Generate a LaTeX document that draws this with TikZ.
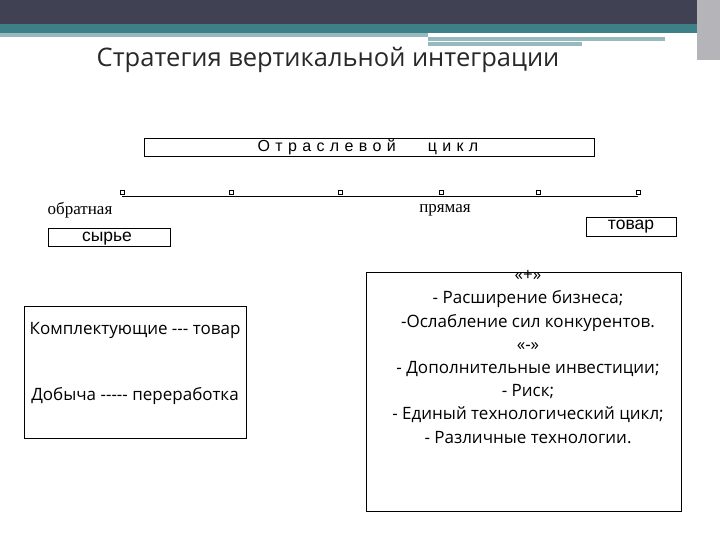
\documentclass[tikz,border=0pt]{standalone}
\usepackage{fontspec}
\setmainfont{Liberation Serif}
\newfontfamily\tsans{Open Sans}
\newfontfamily\asans{Liberation Sans}
\definecolor{band}{RGB}{64,66,84}
\definecolor{teal1}{RGB}{62,128,136}
\definecolor{teal2}{RGB}{150,185,190}
\definecolor{side}{RGB}{180,180,185}
\definecolor{ttl}{RGB}{40,40,40}
\begin{document}
\begin{tikzpicture}[x=1pt,y=-1pt,
  bx/.style={draw,line width=0.6pt,inner sep=0pt},
  dot/.style={draw,line width=1pt,fill=white,minimum size=4pt,inner sep=0pt,rectangle}]
\useasboundingbox (0,0) rectangle (720,540);
\fill[white] (0,0) rectangle (720,540);
\fill[band] (0,0) rectangle (720,24);
\fill[teal1] (0,24) rectangle (720,33);
\fill[teal2] (0,33) rectangle (428,37);
\fill[teal2] (428,37) rectangle (665,41);
\fill[teal2] (428,42) rectangle (582,46);
\fill[side] (697,0) rectangle (720,60);
\node[font=\tsans\fontsize{25.5}{28}\selectfont, text=ttl] (title) at (328,60) {Стратегия вертикальной интеграции};
\node[bx,minimum width=450,minimum height=18] (cyc) at (369,147) {};
\node[font=\asans\fontsize{16}{18}\selectfont] at (368,147) {О\,\,т\,\,р\,\,а\,\,с\,\,л\,\,е\,\,в\,\,о\,\,й\qquad ц\,\,и\,\,к\,\,л};
\coordinate (l0) at (122,196);
\coordinate (l5) at (638,196);
\draw[line width=0.8pt] (l0) -- (l5);
\foreach \x/\n in {122/d0,231/d1,340/d2,441/d3,538/d4,638/d5}
  \node[dot] (\n) at (\x,193) {};
\node[font=\fontsize{17}{19}\selectfont] (obr) at (80,210) {обратная};
\node[font=\fontsize{17}{19}\selectfont] (pr) at (445,210) {прямая};
\node[bx,minimum width=122,minimum height=18] (sy) at (109,237) {};
\node[font=\asans\fontsize{17.5}{19}\selectfont] at (107,239) {сырье};
\node[bx,minimum width=90,minimum height=19] (tv) at (631,227) {};
\node[font=\asans\fontsize{17.5}{19}\selectfont] at (631,227) {товар};
\node[bx,minimum width=222,minimum height=132] (lb) at (135,372) {};
\node[font=\tsans\fontsize{17}{19}\selectfont] at (135,330) {Комплектующие --{}- товар};
\node[font=\tsans\fontsize{17}{19}\selectfont] at (135,396) {Добыча --{}--{}- переработка};
\node[bx,minimum width=315,minimum height=239] (rb) at (523.5,391.5) {};
\node[font=\tsans\fontsize{17}{23.2}\selectfont,align=center,anchor=north] at (528,267) {«+»\\- Расширение бизнеса;\\-Ослабление сил конкурентов.\\«-»\\- Дополнительные инвестиции;\\- Риск;\\- Единый технологический цикл;\\- Различные технологии.};
\end{tikzpicture}
\end{document}
